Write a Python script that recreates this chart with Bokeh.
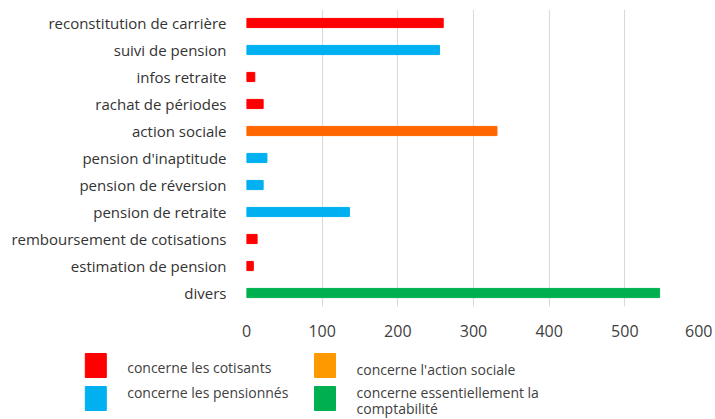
from bokeh.plotting import figure
from bokeh.models import FactorRange, Range1d, ColumnDataSource, FixedTicker
from bokeh.layouts import column
from bokeh.embed import file_html
from bokeh.resources import INLINE
from bokeh.core.properties import value

# ---- data ----
categories = ["reconstitution de carrière", "suivi de pension", "infos retraite",
              "rachat de périodes", "action sociale", "pension d'inaptitude",
              "pension de réversion", "pension de retraite",
              "remboursement de cotisations", "estimation de pension", "divers"]
counts = [260, 255, 11, 22, 331, 27, 22, 136, 14, 9, 546]
groups = ["cotisants", "pensionnes", "cotisants", "cotisants", "social",
          "pensionnes", "pensionnes", "pensionnes", "cotisants", "cotisants", "compta"]
x_ticks = [0, 100, 200, 300, 400, 500, 600]

legend_groups = ["cotisants", "pensionnes", "social", "compta"]
legend_labels = ["concerne  les cotisants", "concerne  les pensionnés",
                 "concerne  l'action sociale", "concerne  essentiellement la\ncomptabilité"]
bar_colors = {"cotisants": "#FF0000", "pensionnes": "#00B0F0",
              "social": "#FF6600", "compta": "#00B050"}
legend_colors = {"cotisants": "#FF0000", "pensionnes": "#00B0F0",
                 "social": "#FF9900", "compta": "#00B050"}

FONT = "Open Sans"
W = 712

src = ColumnDataSource(dict(cat=categories, val=counts,
                            color=[bar_colors[g] for g in groups]))

p = figure(width=W, height=345, output_backend="svg", toolbar_location=None,
           y_range=FactorRange(*reversed(categories)), x_range=Range1d(0, 600),
           min_border_left=246, min_border_right=12, min_border_top=9,
           min_border_bottom=39)
p.frame_align = False
p.hbar(y="cat", right="val", left=0, height=0.34, color="color", source=src)
p.outline_line_color = None
p.ygrid.grid_line_color = None
p.xgrid.grid_line_color = "#D9D9D9"
p.xaxis.ticker = FixedTicker(ticks=x_ticks)
for ax in (p.xaxis[0], p.yaxis[0]):
    ax.axis_line_color = None
    ax.major_tick_line_color = None
    ax.minor_tick_line_color = None
    ax.major_label_text_font = FONT
p.xaxis.major_label_text_font_size = "16px"
p.xaxis.major_label_text_color = "#404040"
p.xaxis.major_label_standoff = 12
p.yaxis.major_label_text_font_size = "15px"
p.yaxis.major_label_text_color = "#333333"
p.yaxis.major_label_standoff = 14

# ---- legend panel ----
LH = 73
lg = figure(width=W, height=LH, output_backend="svg", toolbar_location=None,
            x_range=Range1d(0, W), y_range=Range1d(LH, 0),
            min_border=0)
lg.frame_align = False
lg.axis.visible = False
lg.grid.visible = False
lg.outline_line_color = None
col_x = [95.3, 324.5]
row_y = [20, 53]
sq_x = [col_x[i // 2] for i in range(4)]
sq_y = [row_y[i % 2] for i in range(4)]
lg.rect(x=sq_x, y=sq_y, width=21, height=24,
        color=[legend_colors[g] for g in legend_groups])
tx = [126.7, 126.7, 356, 356]
ty = [21.7, 46.7, 24, 55]
lg.text(x=tx, y=ty, text=legend_labels, text_font=value(FONT),
        text_font_size="14px", text_color="#404040", text_baseline="middle",
        text_line_height=0.85)

layout = column(p, lg, spacing=0)
open("out.html", "w").write(file_html(layout, INLINE))
